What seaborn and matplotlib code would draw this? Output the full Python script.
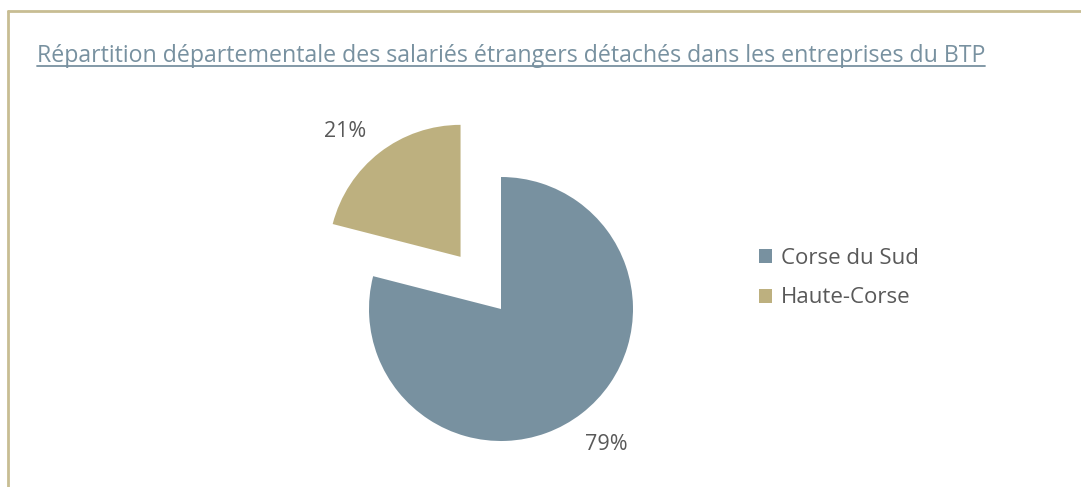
import matplotlib
matplotlib.use("Agg")
import matplotlib.pyplot as plt
import seaborn as sns
from matplotlib.lines import Line2D

# data
departements = ["Corse du Sud", "Haute-Corse"]
parts = [79, 21]
couleurs = ["#7891A0", "#BDB07F"]
titre = "Répartition départementale des salariés étrangers détachés dans les entreprises du BTP"

sns.set_theme(style="white")
plt.rcParams["font.family"] = ["Open Sans", "DejaVu Sans"]

W, H = 1081, 487
fig = plt.figure(figsize=(W / 100, H / 100), dpi=100)
ax = fig.add_axes([0, 0, 1, 1])

# pie centre in pixels (from top-left) and radius
cx, cy, r = 501, 309, 132

wedges, texts, autotexts = ax.pie(
    parts, colors=couleurs, startangle=90, counterclock=False,
    explode=[0, 0.5], autopct="%1.0f%%", pctdistance=1.3,
    textprops=dict(color="#595959", fontsize=15.5),
    wedgeprops=dict(linewidth=0),
)
ax.set_xlim(-cx / r, (W - cx) / r)
ax.set_ylim(-(H - cy) / r, cy / r)
ax.set_aspect("auto")
ax.axis("off")

# small nudge of the 21% label, as the original places it a bit further out-left
x21, y21 = autotexts[1].get_position()
autotexts[1].set_position((x21 - 0.08, y21 - 0.08))

ax.legend(wedges, departements, loc="center left",
          bbox_to_anchor=(739 / W, 1 - 278 / H), frameon=False,
          fontsize=16, labelcolor="#595959", handlelength=0.6, handleheight=0.6,
          handletextpad=0.4, labelspacing=0.85)

# title with underline
t = fig.text(37 / W, 1 - 62 / H, titre, color="#7891A0", fontsize=16.7,
             ha="left", va="baseline")
fig.canvas.draw()
bb = t.get_window_extent().transformed(fig.transFigure.inverted())
fig.add_artist(Line2D([bb.x0, bb.x1], [1 - 66 / H] * 2, color="#7891A0",
                      lw=1.3, transform=fig.transFigure))

# frame: left and top borders only
bord = "#C8BD93"
fig.add_artist(Line2D([8 / W, 8 / W], [0, 1 - 11 / H], color=bord, lw=2,
                      transform=fig.transFigure))
fig.add_artist(Line2D([8 / W, 1], [1 - 11 / H] * 2, color=bord, lw=2,
                      transform=fig.transFigure))

fig.savefig("out.png", dpi=100, facecolor="white")
